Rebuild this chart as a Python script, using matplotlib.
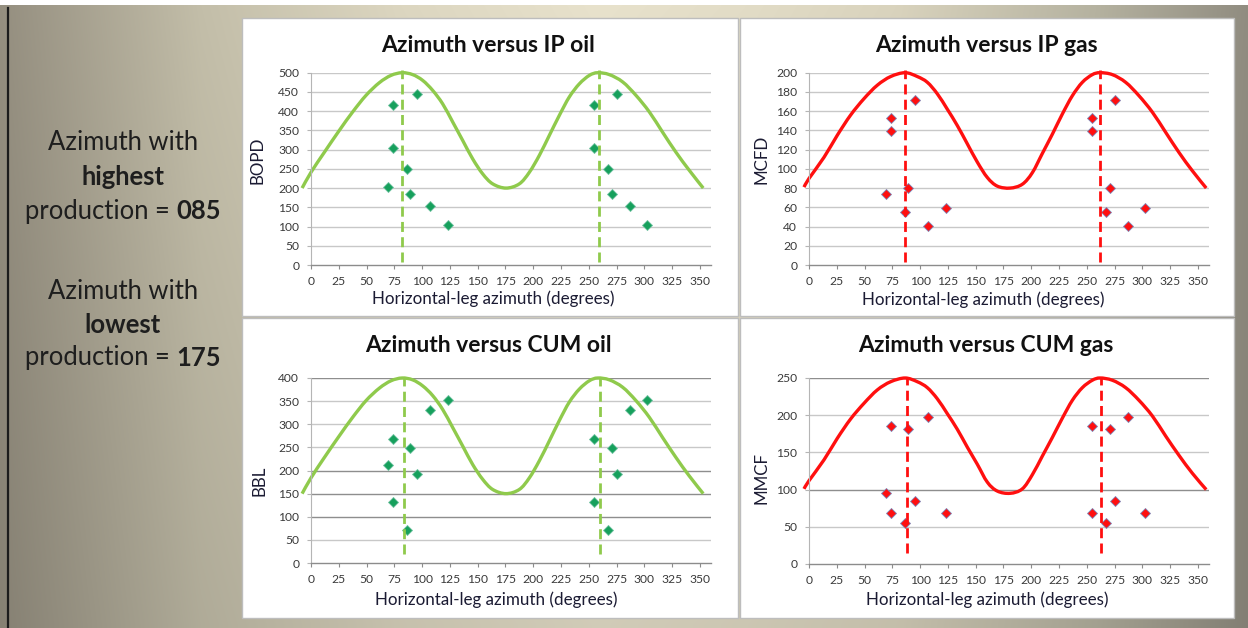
import numpy as np
import matplotlib
matplotlib.use("Agg")
import matplotlib.pyplot as plt
from matplotlib.patches import Rectangle, PathPatch
from matplotlib.path import Path
from matplotlib.lines import Line2D
from matplotlib.colors import to_rgb

# ---------------- data ----------------
x_ticks = [0, 25, 50, 75, 100, 125, 150, 175, 200, 225, 250, 275, 300, 325, 350]

# well azimuths (first set) and reciprocal azimuths of wells 2..8 (second set)
well_az = [69, 74, 74, 86, 89, 95, 107, 123]
well_az_back = [255, 255, 267, 270.5, 275, 287, 302]

ip_oil = [203, 415, 305, 250, 185, 445, 154, 103]
ip_gas = [73.5, 153, 139, 55.5, 80, 172, 40.6, 59.6]
cum_oil = [211, 269, 132, 70.6, 248.6, 193, 331, 352]
cum_gas = [96, 186, 69, 55, 181, 85, 198, 69]

# trend curves
oil_curve_az = [-8, 0, 12, 25.5, 37.5, 49.5, 61.5, 72, 82,
                91.5, 100.5, 109.5, 118.5, 127.5, 136.5, 145.5, 154.5, 163.5,
                175.5, 187.5, 196.5, 205.5, 214.5, 223.5, 232.5, 241.5, 250.5,
                258, 268.5, 280.5, 292.5, 304.5, 316.5, 328.5, 340.5, 353]
ip_oil_curve = [200, 241, 293, 350, 398, 441, 474, 493, 500,
                495, 480, 454, 419, 372, 324, 276, 237, 211,
                200, 211, 241, 285, 337, 389, 437, 471, 493,
                500, 495, 476, 441, 398, 345, 293, 246, 200]
cum_oil_curve = [150, 184, 228, 275, 315, 351, 378, 394, 400,
                 396, 383, 362, 332, 293, 253, 213, 181, 159,
                 150, 159, 184, 221, 264, 308, 348, 376, 394,
                 400, 396, 380, 351, 315, 271, 228, 188, 150]
gas_curve_az = [-4.5, 0, 13.5, 25.5, 37.5, 49.5, 61.5, 73.5, 86.5,
                97.5, 106.5, 115.5, 124.5, 133.5, 142.5, 151.5, 160.5, 169.5,
                181, 192, 201, 210, 219, 228, 237, 246, 255,
                262, 273, 285, 297, 309, 321, 333, 345, 357.5]
ip_gas_curve = [81, 90, 112, 135, 156, 173, 187, 196, 200,
                196, 190, 178, 162, 145, 126, 107, 91, 82,
                80, 84, 96, 116, 136, 157, 176, 190, 198,
                200, 198, 190, 176, 159, 138, 117, 98, 80]
cum_gas_curve = [101, 112, 140, 169, 195, 216, 234, 245, 250,
                 245, 237, 222, 202, 181, 157, 134, 110, 98,
                 95, 101, 120, 145, 170, 196, 220, 237, 247,
                 250, 247, 237, 220, 199, 172, 146, 122, 100]

# azimuths of maximum production (dashed lines)
ip_oil_peaks = [82, 259]
ip_gas_peaks = [86.5, 262]
cum_oil_peaks = [83.5, 260]
cum_gas_peaks = [88.5, 263]

titles = ["Azimuth versus IP oil", "Azimuth versus IP gas",
          "Azimuth versus CUM oil", "Azimuth versus CUM gas"]
y_labels = ["BOPD", "MCFD", "BBL", "MMCF"]
x_label = "Horizontal-leg azimuth (degrees)"

# ---------------- style ----------------
W, H = 1248, 628
FONT = ["Lato", "DejaVu Sans"]
plt.rcParams['font.family'] = FONT
GREEN_LINE = "#8fca4c"
GREEN_MARK = "#16a05c"
RED = "#ff0f0f"
GRID_LIGHT = "#c8c8c8"
GRID_DARK = "#8e8e8e"
TICK_COLOR = "#3a3a3a"
LABEL_COLOR = "#1b1b33"

fig = plt.figure(figsize=(W / 100, H / 100), dpi=100)
renderer = fig.canvas.get_renderer()


def fx(x):
    return x / W


def fy(y):
    return 1 - y / H


def fit_size(text, target_px, weight="normal"):
    t = fig.text(0, 0, text, fontsize=10, fontweight=weight)
    w = t.get_window_extent(renderer).width
    t.remove()
    return 10 * target_px / w


def smooth_path(xs, ys):
    """Smoothed line through the data points (cubic Bezier, like a spreadsheet 'smoothed line')."""
    P = np.column_stack([xs, ys]).astype(float)
    n = len(P)
    verts = [P[0]]
    codes = [Path.MOVETO]
    for i in range(n - 1):
        p0 = P[i - 1] if i > 0 else P[i]
        p1, p2 = P[i], P[i + 1]
        p3 = P[i + 2] if i + 2 < n else P[i + 1]
        c1 = p1 + (p2 - p0) / 6.0
        c2 = p2 - (p3 - p1) / 6.0
        verts += [c1, c2, p2]
        codes += [Path.CURVE4] * 3
    return Path(verts, codes)


# background gradient
stops_x = [0.0, 0.16, 0.32, 0.48, 0.60, 0.72, 0.88, 1.0]
stops_c = ["#958f80", "#c3bea9", "#dcd6c0", "#e8e2cc", "#e2dcc6", "#d9d3bd", "#b5b2a0", "#918d81"]
gx = np.linspace(0, 1, 400)
rgb = np.array([to_rgb(c) for c in stops_c])
row = np.stack([np.interp(gx, stops_x, rgb[:, k]) for k in range(3)], axis=-1)
shade = np.linspace(1.0, 0.9, 100)[:, None, None]
img = np.clip(row[None, :, :] * shade, 0, 1)
bg = fig.add_axes([0, 0, 1, 1], zorder=-10)
bg.imshow(img, extent=[0, 1, 0, 1], aspect="auto", interpolation="bilinear")
bg.set_axis_off()

# top white strip and left dark border
fig.patches.append(Rectangle((0, fy(5)), 1, 5 / H, transform=fig.transFigure,
                             facecolor="white", edgecolor="none", zorder=-6))
fig.lines.append(Line2D([fx(7.5), fx(7.5)], [0, fy(8)], transform=fig.transFigure,
                        color="#1c1c1c", lw=1.6, zorder=-6))

# white chart panels
panel_boxes = [(242, 18, 738, 316), (740, 18, 1234, 316),
               (242, 318, 738, 618), (740, 318, 1234, 618)]
for (x0, y0, x1, y1) in panel_boxes:
    fig.patches.append(Rectangle((fx(x0), fy(y1)), (x1 - x0) / W, (y1 - y0) / H,
                                 transform=fig.transFigure, facecolor="white",
                                 edgecolor="#bdbdbd", lw=1.0, zorder=-5))

title_fs = fit_size(titles[0], 214, "bold")
xlabel_fs = fit_size(x_label, 242)
tick_fs = fit_size("500", 21)

panels = [
    dict(box=(311, 72.7, 711, 265), ymax=500, ystep=50, az=oil_curve_az, curve=ip_oil_curve,
         vals=ip_oil, peaks=ip_oil_peaks, line=GREEN_LINE, mark=GREEN_MARK, medge="#6fc1a0",
         dash_rng=(7, 506), dark=[], ylab=(257, 160), xlab=(493, 299), title=(488, 45)),
    dict(box=(809, 72.7, 1209, 265), ymax=200, ystep=20, az=gas_curve_az, curve=ip_gas_curve,
         vals=ip_gas, peaks=ip_gas_peaks, line=RED, mark=RED, medge="#7d86b8",
         dash_rng=(3, 203), dark=[], ylab=(761, 159), xlab=(983, 300), title=(986, 45)),
    dict(box=(311, 378, 711, 563), ymax=400, ystep=50, az=oil_curve_az, curve=cum_oil_curve,
         vals=cum_oil, peaks=cum_oil_peaks, line=GREEN_LINE, mark=GREEN_MARK, medge="#6fc1a0",
         dash_rng=(20, 400), dark=[400, 200, 150, 100], ylab=(260, 481), xlab=(496, 600), title=(488, 346)),
    dict(box=(809, 378, 1209, 564), ymax=250, ystep=50, az=gas_curve_az, curve=cum_gas_curve,
         vals=cum_gas, peaks=cum_gas_peaks, line=RED, mark=RED, medge="#7d86b8",
         dash_rng=(15, 250), dark=[250, 100], ylab=(761, 478), xlab=(987, 600), title=(986, 346)),
]

for i, p in enumerate(panels):
    x0, y0, x1, y1 = p["box"]
    ax = fig.add_axes([fx(x0), fy(y1), (x1 - x0) / W, (y1 - y0) / H])
    ax.set_facecolor("none")
    ax.set_xlim(0, 360)
    ax.set_ylim(0, p["ymax"])
    ax.set_xticks(x_ticks)
    yt = list(range(0, p["ymax"] + 1, p["ystep"]))
    ax.set_yticks(yt)
    ax.tick_params(axis="x", direction="out", length=3, width=0.8, color="#8c8c8c",
                   labelsize=tick_fs, labelcolor=TICK_COLOR, pad=5)
    ax.tick_params(axis="y", direction="out", length=3, width=0.8, color="#b5b5b5",
                   labelsize=tick_fs, labelcolor=TICK_COLOR, pad=5.5)
    for s in ["top", "right"]:
        ax.spines[s].set_visible(False)
    ax.spines["bottom"].set_color("#8c8c8c")
    ax.spines["left"].set_color("#b5b5b5")
    ax.spines["bottom"].set_linewidth(1.0)
    ax.spines["left"].set_linewidth(0.8)
    ax.set_axisbelow(True)
    ax.yaxis.grid(True, lw=1.0, color=GRID_LIGHT)
    for val, gl in zip(yt, ax.get_ygridlines()):
        if val in p["dark"]:
            gl.set_color(GRID_DARK)
        if val == 0:
            gl.set_visible(False)

    # trend curve (smoothed line through the read points)
    patch = PathPatch(smooth_path(p["az"], p["curve"]), facecolor="none",
                      edgecolor=p["line"], lw=2.4, capstyle="butt", joinstyle="round",
                      transform=ax.transData, clip_on=False, zorder=2)
    ax.add_patch(patch)
    # wells
    ax.plot(well_az, p["vals"], ls="none", marker="D", ms=5, color=p["mark"],
            mec=p["medge"], mew=0.6, zorder=3, clip_on=False)
    ax.plot(well_az_back, p["vals"][1:], ls="none", marker="D", ms=5, color=p["mark"],
            mec=p["medge"], mew=0.6, zorder=3, clip_on=False)
    # dashed peak lines
    for pk in p["peaks"]:
        ax.plot([pk, pk], list(p["dash_rng"]), color=p["line"], lw=2.0,
                dashes=(3.6, 1.9), clip_on=False, zorder=4)

    ax.set_xlabel(x_label, fontsize=xlabel_fs, color=LABEL_COLOR)
    ax.xaxis.set_label_coords((p["xlab"][0] - x0) / (x1 - x0), (y1 - p["xlab"][1]) / (y1 - y0))
    ax.xaxis.label.set_verticalalignment("center")
    ax.set_ylabel(y_labels[i], fontsize=xlabel_fs, color=LABEL_COLOR)
    ax.yaxis.set_label_coords((p["ylab"][0] - x0) / (x1 - x0), (y1 - p["ylab"][1]) / (y1 - y0))
    ax.yaxis.label.set_verticalalignment("center")

    fig.text(fx(p["title"][0]), fy(p["title"][1]), titles[i], fontsize=title_fs,
             fontweight="bold", ha="center", va="center", color="#111111")

# left-hand annotation
side_fs = fit_size("Azimuth with", 150)
side_color = "#1e1e1e"
cx = 123


def mixed_line(y, parts):
    widths = []
    objs = []
    for txt, wt in parts:
        t = fig.text(0, fy(y), txt, fontsize=side_fs, fontweight=wt, va="center",
                     ha="left", color=side_color)
        widths.append(t.get_window_extent(renderer).width)
        objs.append(t)
    total = sum(widths)
    x = cx - total / 2
    for t, w in zip(objs, widths):
        t.set_x(fx(x))
        x += w


mixed_line(143, [("Azimuth with", "normal")])
mixed_line(177, [("highest", "bold")])
mixed_line(211, [("production = ", "normal"), ("085", "bold")])
mixed_line(291, [("Azimuth with", "normal")])
mixed_line(325, [("lowest", "bold")])
mixed_line(358, [("production = ", "normal"), ("175", "bold")])

fig.savefig("out.png", dpi=100)
